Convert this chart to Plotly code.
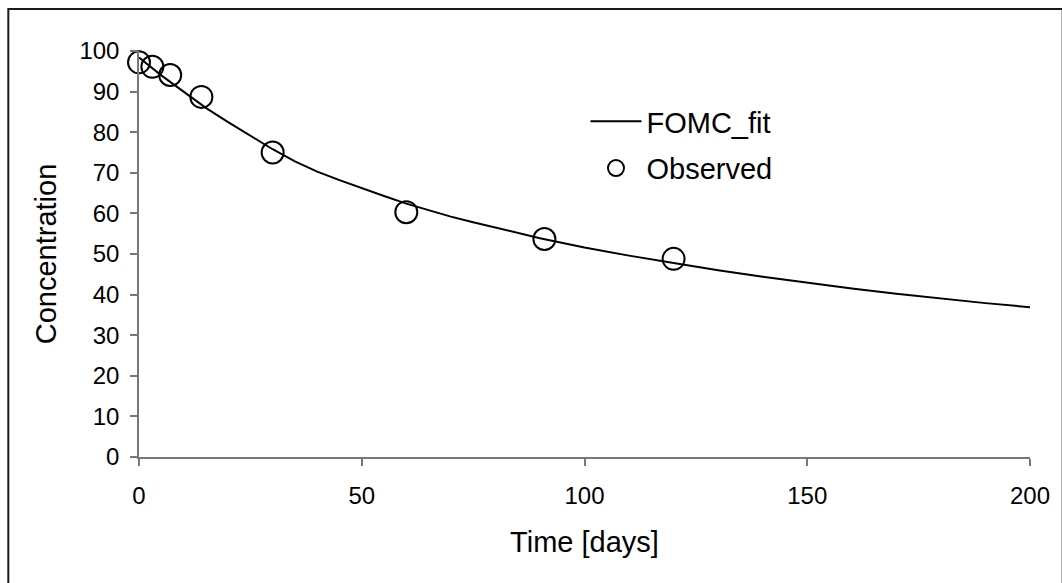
import plotly.graph_objects as go

# Observed concentrations
obs_days = [0, 3, 7, 14, 30, 60, 91, 120]
obs_conc = [97.2, 96.1, 94.1, 88.7, 75.0, 60.3, 53.7, 48.8]

# FOMC fitted curve
fit_days = [0, 5, 10, 15, 20, 25, 30, 35, 40, 45, 50, 55, 60, 65, 70, 75, 80,
            90, 100, 110, 120, 130, 140, 150, 160, 170, 180, 190, 200]
fit_conc = [98.4, 94.0, 90.0, 86.0, 82.5, 79.2, 75.8, 72.8, 70.3, 68.2, 66.2,
            64.3, 62.4, 60.8, 59.2, 57.8, 56.5, 53.9, 51.6, 49.6, 47.8, 46.0,
            44.4, 42.9, 41.5, 40.2, 39.0, 37.9, 36.9]

x_ticks = [0, 50, 100, 150, 200]
y_ticks = [0, 10, 20, 30, 40, 50, 60, 70, 80, 90, 100]

FONT = "Liberation Sans, Arial, sans-serif"

fig = go.Figure()
fig.add_trace(go.Scatter(
    x=fit_days, y=fit_conc, mode="lines", name="FOMC_fit", legendgroup="fit",
    line=dict(color="black", width=2),
))
fig.add_trace(go.Scatter(
    x=obs_days, y=obs_conc, mode="markers", name="Observed", legendgroup="obs",
    marker=dict(symbol="circle-open", size=22, color="black",
                line=dict(color="black", width=2)),
    cliponaxis=False,
))

L, R, T, B = 139, 23, 51, 126
W, H = 1062, 583
pw, ph = W - L - R, H - T - B

fig.update_layout(
    width=W, height=H,
    margin=dict(l=L, r=R, t=T, b=B, pad=0),
    paper_bgcolor="white", plot_bgcolor="white",
    font=dict(family=FONT, color="black", size=24),
    showlegend=True,
    legend=dict(
        x=(590 - L) / pw, y=(457 - 96) / ph, xanchor="left", yanchor="top",
        bgcolor="rgba(0,0,0,0)", font=dict(size=29, family=FONT),
        tracegroupgap=6, itemwidth=51,
    ),
    xaxis=dict(
        range=[0, 200], tickvals=x_ticks, showgrid=False, zeroline=False,
        showline=True, linecolor="#777777", linewidth=1.5,
        ticks="outside", ticklen=7, tickcolor="#777777", tickwidth=1.5,
        tickfont=dict(size=24), ticklabelstandoff=9,
        title=dict(text="Time [days]", font=dict(size=29), standoff=24),
    ),
    yaxis=dict(
        range=[0, 100], tickvals=y_ticks, showgrid=False, zeroline=False,
        showline=True, linecolor="#777777", linewidth=1.5,
        ticks="outside", ticklen=7, tickcolor="#777777", tickwidth=1.5,
        tickfont=dict(size=24), ticklabelstandoff=6,
        title=dict(text="Concentration", font=dict(size=29), standoff=14),
    ),
    shapes=[dict(
        type="rect", xref="paper", yref="paper",
        x0=(7 - L) / pw, x1=(W + 10 - L) / pw,
        y0=(457 - (H + 10)) / ph, y1=(457 - 9) / ph,
        line=dict(color="#1a1a1a", width=2), fillcolor="rgba(0,0,0,0)",
        layer="below",
    )],
)

fig.write_html("out.html")
